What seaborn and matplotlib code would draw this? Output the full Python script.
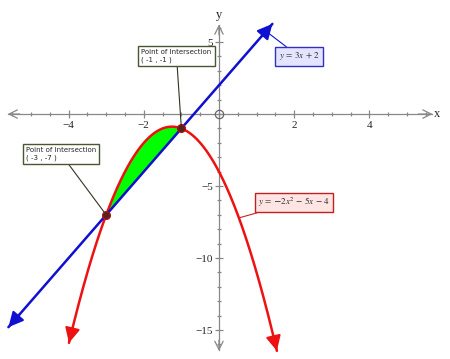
import numpy as np
import pandas as pd
import matplotlib
matplotlib.use("Agg")
import matplotlib.pyplot as plt
import seaborn as sns

# ---- chart data ----
line_slope, line_intercept = 3, 2            # y = 3x + 2
parab_a, parab_b, parab_c = -2, -5, -4        # y = -2x^2 - 5x - 4
line_x_ends = [-5.6, 1.42]
parab_x_ends = [-3.99, 1.54]
intersect_x = [-3, -1]
intersect_y = [-7, -1]
intersect_labels = ["Point of Intersection\n( -3 , -7 )", "Point of Intersection\n( -1 , -1 )"]
x_tick_values = [-4, -2, 2, 4]
y_tick_values = [-15, -10, -5, 5]
line_label = r"$y\,=\,3x\,+\,2$"
parab_label = r"$y\,=\,\mathdefault{-}2x^2\,-\,5x\,-\,4$"

sns.set_style("white")
plt.rcParams["mathtext.fontset"] = "stix"

W, H = 450, 359
fig = plt.figure(figsize=(W / 100, H / 100), dpi=100)
ax = fig.add_axes([0, 0, 1, 1])
ax.set_xlim(-5.824, 6.144)
ax.set_ylim(-17.01, 7.92)
ax.set_facecolor("white")

def fp(px, py):
    return (px, H - py)

blue = "#1010d0"
red = "#ee1111"
axis_gray = "#888888"

# curves
xl = np.linspace(line_x_ends[0], line_x_ends[1], 50)
df_line = pd.DataFrame({"x": xl, "y": line_slope * xl + line_intercept})
xp = np.linspace(parab_x_ends[0], parab_x_ends[1], 300)
df_par = pd.DataFrame({"x": xp, "y": parab_a * xp**2 + parab_b * xp + parab_c})

xf = np.linspace(intersect_x[0], intersect_x[1], 100)
ax.fill_between(xf, parab_a * xf**2 + parab_b * xf + parab_c,
                line_slope * xf + line_intercept, color="#00ff00", lw=0, zorder=2)

sns.lineplot(data=df_par, x="x", y="y", ax=ax, color=red, lw=1.8, zorder=4, sort=False)
sns.lineplot(data=df_line, x="x", y="y", ax=ax, color=blue, lw=1.8, zorder=5, sort=False)
ax.set_xlabel("")
ax.set_ylabel("")

def head(x0, y0, x1, y1, color):
    ax.annotate("", xy=(x1, y1), xytext=(x0, y0),
                arrowprops=dict(arrowstyle="-|>,head_length=0.5,head_width=0.25",
                                color=color, lw=1.5, shrinkA=0, shrinkB=0,
                                mutation_scale=18), zorder=6)

for xe, xi in [(line_x_ends[0], line_x_ends[0] + 0.3), (line_x_ends[1], line_x_ends[1] - 0.3)]:
    head(xi, line_slope * xi + line_intercept, xe, line_slope * xe + line_intercept, blue)
for xe, xi in [(parab_x_ends[0], parab_x_ends[0] + 0.1), (parab_x_ends[1], parab_x_ends[1] - 0.1)]:
    head(xi, parab_a * xi**2 + parab_b * xi + parab_c, xe, parab_a * xe**2 + parab_b * xe + parab_c, red)

# axes through origin
for s in ["top", "right"]:
    ax.spines[s].set_visible(False)
ax.spines["bottom"].set_position(("data", 0))
ax.spines["left"].set_position(("data", 0))
ax.spines["bottom"].set_bounds(-5.6, 5.66)
ax.spines["left"].set_bounds(-16.4, 6.2)
for s in ["bottom", "left"]:
    ax.spines[s].set_color(axis_gray)
    ax.spines[s].set_linewidth(0.9)
    ax.spines[s].set_zorder(1)

ax.set_xticks(x_tick_values)
ax.set_xticks(np.arange(-5.5, 5.51, 0.5), minor=True)
ax.set_yticks(y_tick_values)
ax.set_yticks(np.arange(-16, 6.1, 1), minor=True)
ax.set_xticklabels([f"\u2212{abs(v)}" if v < 0 else str(v) for v in x_tick_values])
ax.set_yticklabels([f"\u2212{abs(v)}" if v < 0 else str(v) for v in y_tick_values])
ax.tick_params(which="both", bottom=True, left=True, top=False, right=False,
               direction="inout", width=0.9, color=axis_gray)
ax.tick_params(which="major", length=6)
ax.tick_params(which="minor", length=3)
ax.tick_params(axis="x", which="major", pad=2, labelsize=8)
ax.tick_params(axis="y", which="major", pad=1.5, labelsize=8)
for lab in ax.get_xticklabels() + ax.get_yticklabels():
    lab.set_family("Liberation Serif")

def axarrow(xy, xytext):
    ax.annotate("", xy=xy, xytext=xytext,
                arrowprops=dict(arrowstyle="->,head_length=0.6,head_width=0.3", color=axis_gray,
                                lw=0.9, shrinkA=0, shrinkB=0, mutation_scale=10))

axarrow((-5.62, 0), (-5.3, 0))
axarrow((5.68, 0), (5.3, 0))
axarrow((0, 6.22), (0, 5.5))
axarrow((0, -16.45), (0, -15.7))
fig.text(437 / W, 1 - 114 / H, "x", family="Liberation Serif", fontsize=9, ha="center", va="center")
fig.text(219 / W, 1 - 15 / H, "y", family="Liberation Serif", fontsize=9, ha="center", va="center")

# origin circle
ax.plot([0], [0], marker="o", ms=6, mfc="none", mec="#666666", mew=0.9, zorder=3)

# intersection points
ax.plot(intersect_x, intersect_y, ls="none", marker="o", ms=5.5, mfc="#552222",
        mec="#aa1111", mew=1, zorder=8)

# annotation boxes
box_centers = [(61, 154), (176.5, 56)]
for (bx, by), txt, px, py in zip(box_centers, intersect_labels, intersect_x, intersect_y):
    ax.annotate(txt, xy=(px, py), xycoords="data", xytext=fp(bx, by), textcoords="figure pixels",
                ha="center", va="center", multialignment="left", fontsize=5,
                family="DejaVu Sans", linespacing=1.3,
                bbox=dict(boxstyle="square,pad=0.45", fc="white", ec="#4a5535", lw=1),
                arrowprops=dict(arrowstyle="-", color="#333322", lw=0.8, shrinkA=0, shrinkB=2),
                zorder=9)

xt = 1.25
ax.annotate(line_label, xy=(xt, line_slope * xt + line_intercept), xycoords="data",
            xytext=fp(299, 56.5), textcoords="figure pixels", ha="center", va="center",
            fontsize=6.5,
            bbox=dict(boxstyle="square,pad=0.35", fc="#e4e4ff", ec="#3030c0", lw=1),
            arrowprops=dict(arrowstyle="-", color=blue, lw=0.8, shrinkA=0, shrinkB=0),
            zorder=9)
xr = 0.53
ax.annotate(parab_label, xy=(xr, parab_a * xr**2 + parab_b * xr + parab_c), xycoords="data",
            xytext=fp(294, 202.5), textcoords="figure pixels", ha="center", va="center",
            fontsize=6.5,
            bbox=dict(boxstyle="square,pad=0.35", fc="#ffe4e4", ec="#c02020", lw=1),
            arrowprops=dict(arrowstyle="-", color="#cc2222", lw=0.8, shrinkA=0, shrinkB=0),
            zorder=9)

fig.savefig("out.png", dpi=100)
